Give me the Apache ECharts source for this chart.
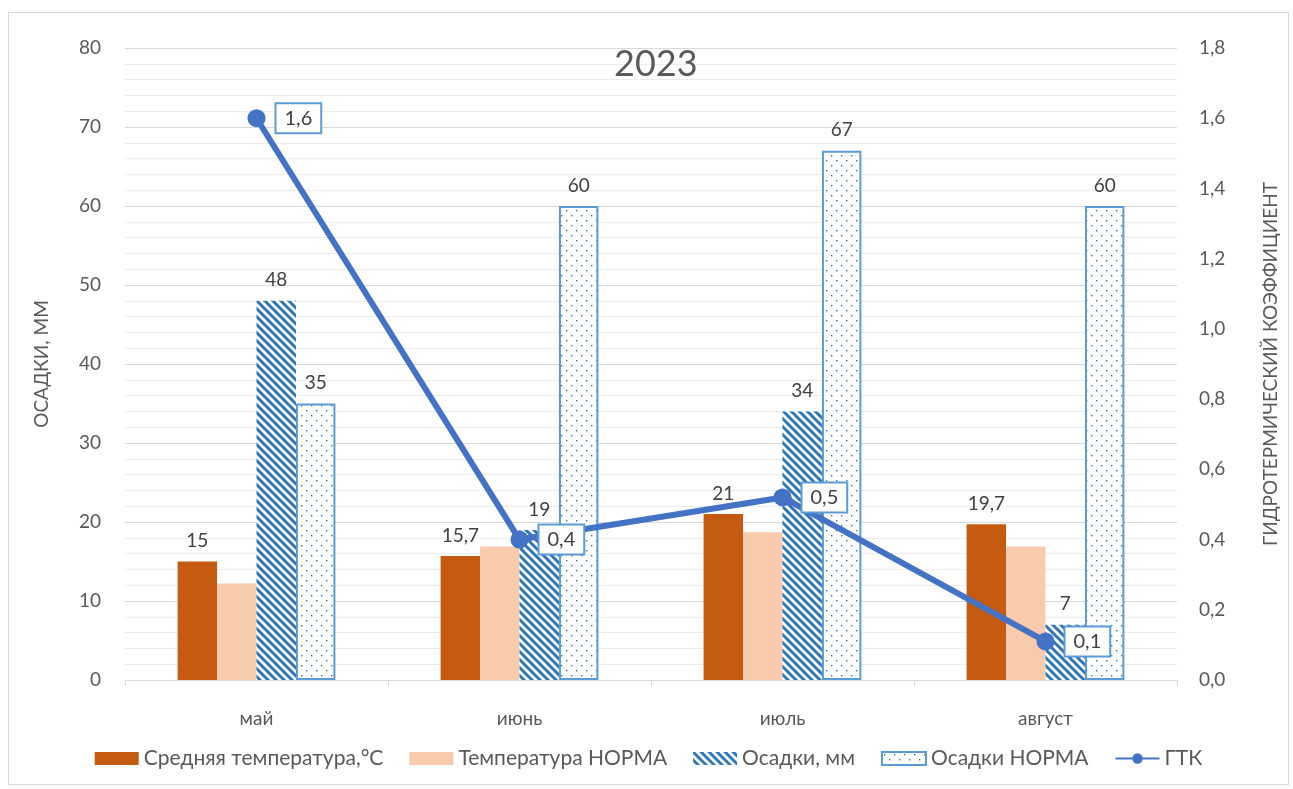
<!DOCTYPE html>
<html>
<head>
<meta charset="utf-8">
<script src="https://cdn.jsdelivr.net/npm/echarts@6/dist/echarts.min.js"></script>
<style>
  html, body { margin: 0; padding: 0; background: #fff; }
  #chart { position: absolute; left: 8px; top: 12px; width: 1281px; height: 773px; border: 1px solid #d9d9d9; box-sizing: border-box; }
</style>
</head>
<body>
<div id="chart"></div>
<script>
const categories = ['май', 'июнь', 'июль', 'август']
const tempAvg = [15, 15.7, 21, 19.7]
const tempNorm = [12.2, 16.9, 18.7, 16.9]
const precip = [48, 19, 34, 7]
const precipNorm = [35, 60, 67, 60]
const gtk = [1.6, 0.4, 0.52, 0.11]

const comma = (v, digits) => (digits == null ? String(v) : Number(v).toFixed(digits)).replace('.', ',')

// diagonal hatch for "Осадки, мм"
const makeHatch = () => {
  const c = document.createElement('canvas')
  c.width = 8
  c.height = 8
  const ctx = c.getContext('2d')
  ctx.fillStyle = '#fff'
  ctx.fillRect(0, 0, 8, 8)
  ctx.strokeStyle = '#2e75b6'
  ctx.lineWidth = 3
  ctx.beginPath()
  ctx.moveTo(-2, -2); ctx.lineTo(10, 10)
  ctx.moveTo(-6, 2); ctx.lineTo(2, 10)
  ctx.moveTo(6, -2); ctx.lineTo(14, 6)
  ctx.stroke()
  return c
}

// sparse dots for "Осадки НОРМА"
const makeDots = () => {
  const c = document.createElement('canvas')
  c.width = 10
  c.height = 10
  const ctx = c.getContext('2d')
  ctx.fillStyle = '#fff'
  ctx.fillRect(0, 0, 10, 10)
  ctx.fillStyle = '#2e75b6'
  ctx.fillRect(2, 2, 1.4, 1.4)
  ctx.fillRect(7, 7, 1.4, 1.4)
  return c
}

const font = 'Lato, "Noto Sans", sans-serif'
const txt = '#595959'
const labelStyle = { show: true, position: 'top', distance: 11, color: '#404040', fontSize: 19, fontFamily: font }

const chart = echarts.init(document.getElementById('chart'))
chart.setOption({
  animation: false,
  textStyle: { fontFamily: font },
  title: {
    text: '2023',
    left: 600,
    top: 28,
    textStyle: { color: txt, fontSize: 36, fontWeight: 'normal', fontFamily: font },
  },
  legend: {
    bottom: 10,
    left: 'center',
    itemWidth: 44,
    itemHeight: 13,
    itemGap: 26,
    textStyle: { color: txt, fontSize: 21, fontFamily: font },
    data: [
      { name: 'Средняя температура,°С', icon: 'rect' },
      { name: 'Температура НОРМА', icon: 'rect' },
      { name: 'Осадки, мм', icon: 'rect' },
      { name: 'Осадки НОРМА', icon: 'rect' },
      { name: 'ГТК' },
    ],
  },
  grid: { left: 116, right: 106, top: 35, bottom: 104 },
  xAxis: {
    type: 'category',
    data: categories,
    axisLine: { lineStyle: { color: '#d9d9d9' } },
    axisTick: { show: true, length: 6, lineStyle: { color: '#d9d9d9' } },
    axisLabel: { color: txt, fontSize: 19, margin: 29 },
  },
  yAxis: [
    {
      type: 'value',
      min: 0,
      max: 80,
      interval: 10,
      name: 'ОСАДКИ, ММ',
      nameLocation: 'middle',
      nameRotate: 90,
      nameGap: 74,
      nameTextStyle: { color: txt, fontSize: 19 },
      axisLabel: { color: txt, fontSize: 19, margin: 24 },
      splitLine: { lineStyle: { color: '#d9d9d9' } },
      minorTick: { show: false, splitNumber: 5 },
      minorSplitLine: { show: true, lineStyle: { color: '#ececec' } },
    },
    {
      type: 'value',
      min: 0,
      max: 1.8,
      interval: 0.2,
      name: 'ГИДРОТЕРМИЧЕСКИЙ КОЭФФИЦИЕНТ',
      nameLocation: 'middle',
      nameRotate: 90,
      nameGap: 84,
      nameTextStyle: { color: txt, fontSize: 19 },
      axisLabel: { color: txt, fontSize: 19, margin: 22, formatter: (v) => comma(v, 1) },
      splitLine: { show: false },
    },
  ],
  series: [
    {
      name: 'Средняя температура,°С',
      type: 'bar',
      barGap: '0%',
      barCategoryGap: '40%',
      itemStyle: { color: '#c55a11' },
      label: { ...labelStyle, formatter: (p) => comma(p.value) },
      data: tempAvg,
    },
    {
      name: 'Температура НОРМА',
      type: 'bar',
      itemStyle: { color: '#f8cbad' },
      data: tempNorm,
    },
    {
      name: 'Осадки, мм',
      type: 'bar',
      itemStyle: { color: { image: makeHatch(), repeat: 'repeat' } },
      label: { ...labelStyle },
      data: precip,
    },
    {
      name: 'Осадки НОРМА',
      type: 'bar',
      itemStyle: { color: { image: makeDots(), repeat: 'repeat' }, borderColor: '#5b9bd5', borderWidth: 2 },
      label: { ...labelStyle },
      data: precipNorm,
    },
    {
      name: 'ГТК',
      type: 'line',
      yAxisIndex: 1,
      z: 10,
      symbol: 'circle',
      symbolSize: 18,
      lineStyle: { color: '#4472c4', width: 6 },
      itemStyle: { color: '#4472c4' },
      label: {
        show: true,
        position: 'right',
        distance: 11,
        color: '#404040',
        fontSize: 20,
        backgroundColor: '#fff',
        borderColor: '#5b9bd5',
        borderWidth: 2,
        padding: [5, 8, 3, 8],
        formatter: (p) => comma(p.value, 1),
      },
      data: gtk,
    },
  ],
})
</script>
</body>
</html>
